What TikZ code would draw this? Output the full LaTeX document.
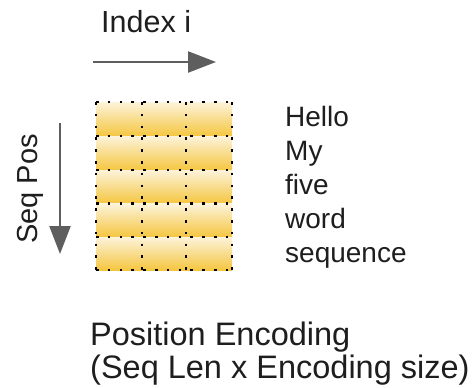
\documentclass[tikz,border=0pt]{standalone}
\usepackage{fontspec}
\setmainfont{Liberation Sans}
\usetikzlibrary{arrows.meta}
\definecolor{ink}{HTML}{1E1E1E}
\definecolor{arrowgray}{HTML}{5E5E5E}
\definecolor{celltop}{HTML}{FCF3DA}
\definecolor{cellbot}{HTML}{F5C640}
\tikzset{
  lbl/.style={anchor=base west, inner sep=0pt, text=ink, font=\fontsize{28}{34}\selectfont},
  biglbl/.style={anchor=base west, inner sep=0pt, text=ink, font=\fontsize{32.5}{36}\selectfont},
  dirarrow/.style={draw=arrowgray, line width=2.4pt, -{Triangle[length=28pt,width=21pt]}},
  dots/.style={draw=black, line width=2.5pt, dash pattern=on 2.5pt off 9.3pt},
  cell/.style={top color=celltop, bottom color=cellbot, draw=none}
}
\begin{document}
\begin{tikzpicture}[x=1pt,y=-1pt]
  \useasboundingbox (0,0) rectangle (474,388);
  \fill[white] (0,0) rectangle (474,388);

  % axis label and arrow for the encoding index
  \node[lbl, font=\fontsize{30.5}{36}\selectfont] (idx) at (101,32) {Index i};
  \coordinate (h0) at (93,62);
  \coordinate (h1) at (216,62);
  \draw[dirarrow] (h0) -- (h1);

  % axis label and arrow for the sequence position
  \node[anchor=base, inner sep=0pt, text=ink, rotate=90, font=\fontsize{29}{34}\selectfont] (pos) at (37,189) {Seq Pos};
  \coordinate (v0) at (60,123);
  \coordinate (v1) at (60,254);
  \draw[dirarrow] (v0) -- (v1);

  % encoding matrix: five rows (one per word), three columns
  \foreach \ya/\yb in {102/136, 136/170, 170/203.5, 203.5/237, 237/270}{
    \foreach \xa/\xb in {96/142, 142/186, 186/232}{
      \shade[cell] (\xa,\ya) rectangle (\xb,\yb);
    }
  }
  \foreach \y in {102, 136, 170, 203.5, 237, 270}{
    \draw[dots] (96,\y) -- (233,\y);
  }
  \foreach \x in {96, 142, 186, 232}{
    \draw[dots] (\x,102) -- (\x,271);
  }

  % the words of the sequence
  \node[lbl] (w1) at (285,126) {Hello};
  \node[lbl] (w2) at (285,160) {My};
  \node[lbl] (w3) at (285,194) {five};
  \node[lbl] (w4) at (285,228) {word};
  \node[lbl] (w5) at (285,262) {sequence};

  % caption
  \node[biglbl] (cap1) at (90,345) {Position Encoding};
  \node[biglbl] (cap2) at (90,378) {(Seq Len x Encoding size)};
\end{tikzpicture}
\end{document}
